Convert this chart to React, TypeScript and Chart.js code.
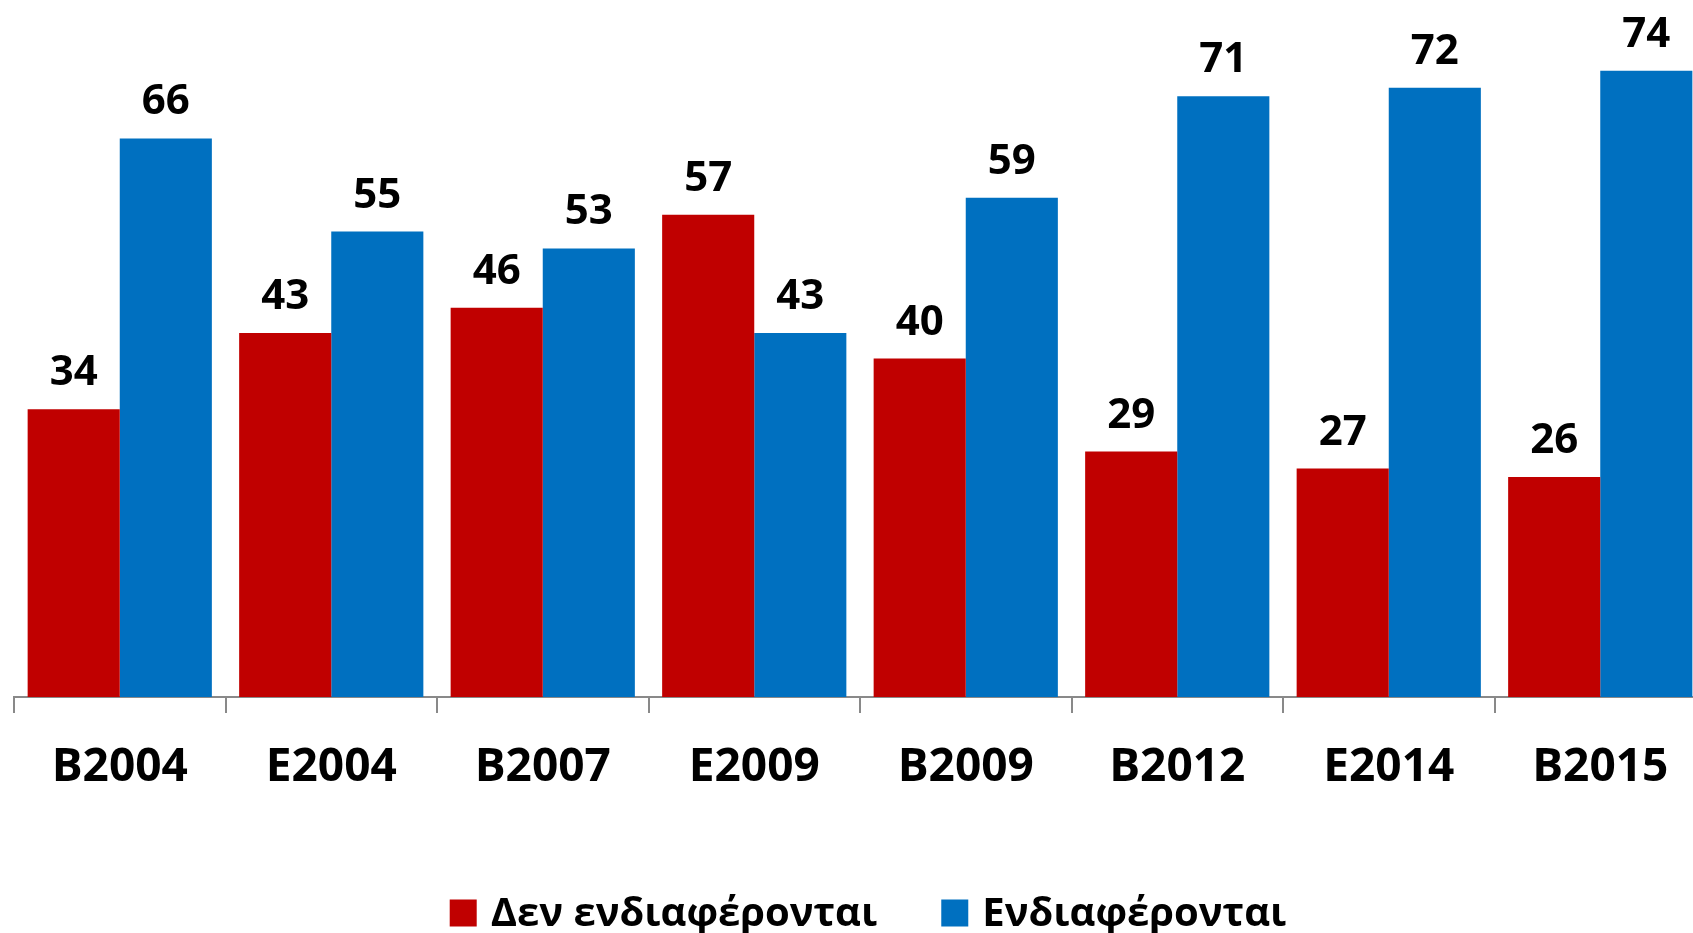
import React, { useEffect, useRef } from "react";
import { Chart, registerables } from "chart.js";

Chart.register(...registerables);

const categories = ["B2004", "E2004", "B2007", "E2009", "B2009", "B2012", "E2014", "B2015"];
const notInterested = [34, 43, 46, 57, 40, 29, 27, 26];
const interested = [66, 55, 53, 43, 59, 71, 72, 74];
const seriesLabels = ["Δεν ενδιαφέρονται", "Ενδιαφέρονται"];
const seriesColors = ["#C00000", "#0070C0"];

const FONT = "'Open Sans', 'Noto Sans', sans-serif";

const valueLabels = {
  id: "valueLabels",
  afterDatasetsDraw(chart: any) {
    const ctx = chart.ctx;
    ctx.save();
    ctx.font = `bold 42px ${FONT}`;
    ctx.fillStyle = "#000";
    ctx.textAlign = "center";
    ctx.textBaseline = "alphabetic";
    chart.data.datasets.forEach((ds: any, i: number) => {
      const meta = chart.getDatasetMeta(i);
      meta.data.forEach((bar: any, j: number) => {
        ctx.fillText(String(ds.data[j]), bar.x, bar.y - 24);
      });
    });
    ctx.restore();
  },
};

const customLegend = {
  id: "customLegend",
  afterDraw(chart: any) {
    const ctx = chart.ctx;
    const box = 27;
    const gapBoxText = 14;
    const gapItems = 64;
    ctx.save();
    ctx.font = `bold 40px ${FONT}`;
    ctx.textBaseline = "middle";
    ctx.textAlign = "left";
    const items = chart.data.datasets.map((ds: any) => ({
      label: ds.label,
      color: ds.backgroundColor,
      w: ctx.measureText(ds.label).width,
    }));
    const total = items.reduce((s: number, it: any) => s + box + gapBoxText + it.w, 0) + gapItems * (items.length - 1);
    const center = (chart.chartArea.left + chart.chartArea.right) / 2 + 8;
    let x = center - total / 2;
    const cy = 913;
    items.forEach((it: any) => {
      ctx.fillStyle = it.color;
      ctx.fillRect(x, cy - box / 2, box, box);
      x += box + gapBoxText;
      ctx.fillStyle = "#000";
      ctx.fillText(it.label, x, cy + 2);
      x += it.w + gapItems;
    });
    ctx.restore();
  },
};

export default function App() {
  const ref = useRef<HTMLCanvasElement | null>(null);

  useEffect(() => {
    document.body.style.overflow = "hidden";
    const canvas = ref.current!;
    const chart = new Chart(canvas, {
      type: "bar",
      data: {
        labels: categories,
        datasets: [
          {
            label: seriesLabels[0],
            data: notInterested,
            backgroundColor: seriesColors[0],
            categoryPercentage: 0.871,
            barPercentage: 1.0,
          },
          {
            label: seriesLabels[1],
            data: interested,
            backgroundColor: seriesColors[1],
            categoryPercentage: 0.871,
            barPercentage: 1.0,
          },
        ],
      },
      options: {
        responsive: false,
        animation: false,
        devicePixelRatio: 1,
        layout: { padding: { left: 14, right: 14, top: 20, bottom: 0 } },
        plugins: {
          legend: { display: false },
          tooltip: { enabled: false },
        },
        scales: {
          x: {
            grid: {
              display: true,
              drawOnChartArea: false,
              drawTicks: true,
              tickLength: 16,
              color: "#898989",
              lineWidth: 2,
              offset: true,
            },
            border: { display: true, color: "#898989", width: 2 },
            ticks: {
              color: "#000",
              font: { family: FONT, size: 46, weight: "bold" },
              padding: 27,
              maxRotation: 0,
              autoSkip: false,
            },
            afterFit: (scale: any) => {
              scale.height = 236;
            },
          },
          y: {
            display: false,
            min: 0,
            max: 80,
          },
        },
      },
      plugins: [valueLabels, customLegend],
    });
    return () => chart.destroy();
  }, []);

  return (
    <div style={{ position: "fixed", left: 0, top: 0, width: 1720, height: 933, background: "#fff" }}>
      <canvas ref={ref} width={1720} height={933} style={{ width: 1720, height: 933, display: "block" }} />
    </div>
  );
}
